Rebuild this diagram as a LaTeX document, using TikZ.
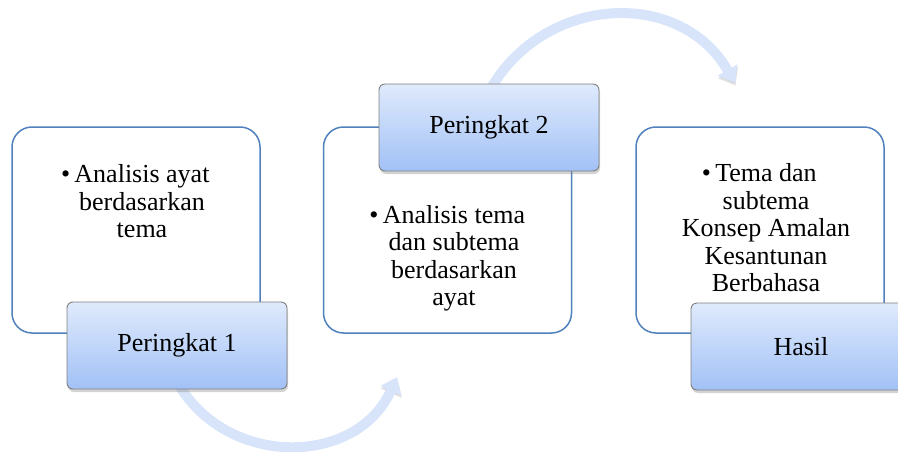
\documentclass[tikz,border=0pt]{standalone}
\usepackage{fontspec}
\setmainfont{Liberation Serif}
\usetikzlibrary{arrows.meta,shadows,backgrounds}

\definecolor{boxblue}{RGB}{79,129,189}
\definecolor{tabtop}{RGB}{223,234,252}
\definecolor{tabbot}{RGB}{162,193,246}
\definecolor{flowblue}{RGB}{216,228,250}

\tikzset{
  stagebox/.style={draw=boxblue, line width=1.5pt, fill=white, rounded corners=20pt,
    minimum width=248pt, minimum height=206pt},
  tabbox/.style={draw=gray, line width=0.9pt, rounded corners=6pt,
    top color=tabtop, bottom color=tabbot, minimum width=220pt, minimum height=87pt,
    drop shadow={shadow xshift=1pt, shadow yshift=-3pt, opacity=0.35},
    font=\fontsize{26}{30}\selectfont},
  bodytext/.style={align=center, font=\fontsize{26}{27.5}\selectfont},
  flow/.style={line width=10pt, draw=flowblue, -{Triangle[width=22pt,length=15pt]},
    looseness=1.15,
    preaction={draw=black, opacity=0.12, transform canvas={shift={(0.5pt,-2.5pt)}}}}
}

\begin{document}
\begin{tikzpicture}[x=1pt,y=1pt]

        \useasboundingbox (0,0) rectangle (898,451);
        \clip (0,0) rectangle (898,451);

        % Stage boxes
        \node[stagebox] (box1) at (136,221) {};
        \node[stagebox] (box2) at (447.5,221) {};
        \node[stagebox] (box3) at (760,221) {};

        % Contents of each stage
        \node[bodytext] (txt1) at (142,249.5) {\leavevmode\llap{\textbullet\,}Analisis ayat\\berdasarkan\\tema};
        \node[bodytext] (txt2) at (454,192.5) {\leavevmode\llap{\textbullet\,}Analisis tema\\dan subtema\\berdasarkan\\ayat};
        \node[bodytext] (txt3) at (766,223) {\leavevmode\llap{\textbullet\,}Tema dan\\subtema\\Konsep Amalan\\Kesantunan\\Berbahasa};

        % Stage labels
        \node[tabbox] (lab1) at (177,105.5) {Peringkat 1};
        \node[tabbox] (lab2) at (489,323.5) {Peringkat 2};
        \node[tabbox] (lab3) at (801,104.5) {Hasil};

        % Curved arrows between stages, behind the labels
        \coordinate (tip1) at (397,74);
        \coordinate (tip2) at (735,368);
        \begin{scope}[on background layer]
            \draw[flow] ([yshift=8pt]lab1.south) to[out=-61,in=-114] (tip1);
            \draw[flow] ([yshift=-8pt]lab2.north) to[out=61,in=120] (tip2);
        \end{scope}
    \end{tikzpicture}
\end{document}
